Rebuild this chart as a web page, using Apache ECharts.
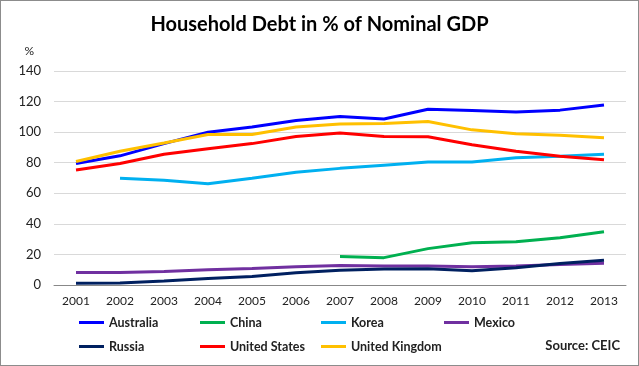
<!DOCTYPE html>
<html><head><meta charset="utf-8">
<script src="https://cdn.jsdelivr.net/npm/echarts@6/dist/echarts.min.js"></script>
<style>
html,body{margin:0;padding:0;background:#fff;}
#c{width:639px;height:366px;box-sizing:border-box;border:1px solid #8c8c8c;}
</style></head>
<body><div id="c"></div>
<script>
const years = ['2001','2002','2003','2004','2005','2006','2007','2008','2009','2010','2011','2012','2013'];
const australia = [79.5, 84.5, 92.5, 100, 103.3, 107.6, 110.2, 108.6, 115, 114.2, 113.2, 114.4, 117.7];
const china = [null, null, null, null, null, null, 18.6, 17.9, 23.8, 27.7, 28.3, 30.9, 34.8];
const korea = [null, 69.8, 68.5, 66.3, 69.8, 73.7, 76.3, 78.4, 80.4, 80.4, 83.2, 84.3, 85.5];
const mexico = [8.2, 8.2, 8.9, 9.9, 10.8, 12.0, 12.8, 12.5, 12.5, 11.9, 12.5, 13.4, 14.3];
const russia = [1.1, 1.3, 2.6, 4.3, 5.6, 8.0, 9.6, 10.4, 10.6, 9.4, 11.3, 14.0, 16.2];
const unitedStates = [75.2, 79.5, 85.5, 89.2, 92.5, 97.2, 99.4, 97.2, 97.0, 91.8, 87.5, 84.3, 81.9];
const unitedKingdom = [80.8, 87.5, 92.9, 98.5, 98.5, 103.3, 105.3, 105.6, 106.9, 101.5, 99.0, 97.9, 96.4];
const yTicks = [0, 20, 40, 60, 80, 100, 120, 140];

const seriesDefs = [
  {name:'Australia', data:australia, color:'#0000FF'},
  {name:'China', data:china, color:'#00B050'},
  {name:'Korea', data:korea, color:'#00B0F0'},
  {name:'Mexico', data:mexico, color:'#7030A0'},
  {name:'Russia', data:russia, color:'#002060'},
  {name:'United States', data:unitedStates, color:'#FF0000'},
  {name:'United Kingdom', data:unitedKingdom, color:'#FFC000'}
];
const legendPos = [
  [78,315],[199,315],[320,315],[443,315],
  [78,339],[199,339],[320,339]
];
const FONT = 'Lato, "Open Sans", sans-serif';
const chart = echarts.init(document.getElementById('c'));
chart.setOption({
  animation:false,
  textStyle:{fontFamily:FONT},
  title:[
    {text:'Household Debt in % of Nominal GDP', left:'center', top:9,
     textStyle:{fontFamily:FONT, fontSize:20, fontWeight:'bold', color:'#000'}},
    {text:'Source: CEIC', right:13, top:333,
     textStyle:{fontFamily:FONT, fontSize:13, fontWeight:'bold', color:'#222'}}
  ],
  legend: seriesDefs.map((s,i)=>({
    data:[s.name], left:legendPos[i][0], top:legendPos[i][1],
    icon:'rect', itemWidth:25, itemHeight:3, itemGap:0, padding:0,
    textStyle:{fontFamily:FONT, fontSize:12.5, fontWeight:'bold', color:'#222'},
    selectedMode:false
  })),
  grid:{left:53, right:12, top:70, bottom:80},
  xAxis:{type:'category', data:years, boundaryGap:true,
    axisLine:{lineStyle:{color:'#888', width:1}}, axisTick:{show:false},
    axisLabel:{color:'#222', fontSize:12, margin:10, fontFamily:FONT}},
  yAxis:{type:'value', min:0, max:140, interval:20, name:'%',
    nameLocation:'end', nameGap:14, nameTextStyle:{color:'#222', fontSize:12, align:'right', padding:[0,20,0,0]},
    axisLine:{show:false}, axisTick:{show:false},
    axisLabel:{color:'#222', fontSize:13, margin:13, fontFamily:FONT},
    splitLine:{lineStyle:{color:'#d9d9d9', width:1}}},
  series: seriesDefs.map(s=>({
    name:s.name, type:'line', data:s.data, showSymbol:false, symbol:'none',
    connectNulls:false, color:s.color,
    lineStyle:{color:s.color, width:3}
  }))
});
</script></body></html>
